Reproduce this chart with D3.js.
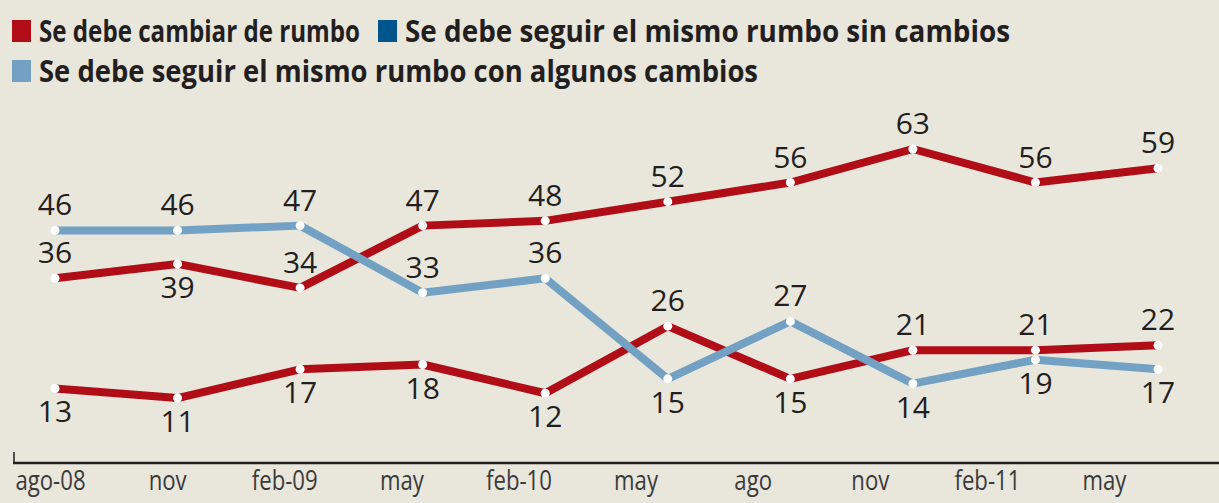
<!DOCTYPE html>
<html>
<head>
<meta charset="utf-8">
<script src="https://cdn.jsdelivr.net/npm/d3@7"></script>
<style>
  body { margin: 0; background: #e9e6dc; }
  svg { display: block; }
</style>
</head>
<body>
<svg></svg>
<script>
var width = 1219;
var height = 503;

var periods = ["ago-08", "nov", "feb-09", "may", "feb-10", "may", "ago", "nov", "feb-11", "may"];
var seriesNames = ["Se debe cambiar de rumbo", "Se debe seguir el mismo rumbo sin cambios", "Se debe seguir el mismo rumbo con algunos cambios"];
var cambiar = [36, 39, 34, 47, 48, 52, 56, 63, 56, 59];
var sinCambios = [13, 11, 17, 18, 12, 26, 15, 21, 21, 22];
var conCambios = [46, 46, 47, 33, 36, 15, 27, 14, 19, 17];
// which labels sit under their point
var cambiarBelow = [false, true, false, false, false, false, false, false, false, false];
var sinBelow = [true, true, true, true, true, false, true, false, false, false];
var conBelow = [false, false, false, false, false, true, false, true, true, true];

var legendColors = ["#b00d17", "#00558c", "#73a1c3"];
var red = "#b00d17", lightBlue = "#73a1c3";

var svg = d3.select("svg")
	.attr("width", width)
	.attr("height", height);

var Xscale = d3.scalePoint()
	.domain(d3.range(periods.length))
	.range([55, 1158]);

var Yscale = d3.scaleLinear()
	.domain([0, 63])
	.range([450.7, 149]);

// axis labels are not under the points in the original, they are spread on their own
var labelScale = d3.scalePoint()
	.domain(d3.range(periods.length))
	.range([50, 1104]);

// squeeze text a bit, the original uses a narrow face
function condense(sel, k) {
	sel.each(function () {
		var w = this.getComputedTextLength();
		d3.select(this)
			.attr("textLength", w * k)
			.attr("lengthAdjust", "spacingAndGlyphs");
	});
}

// legend
var legendItems = [
	{ name: seriesNames[0], color: legendColors[0], x: 12, y: 42, w: 321 },
	{ name: seriesNames[1], color: legendColors[1], x: 378, y: 42, w: 605 },
	{ name: seriesNames[2], color: legendColors[2], x: 12, y: 82, w: 719 }
];

var legend = svg.append("g").selectAll("g")
	.data(legendItems)
	.enter()
	.append("g")
		.attr("transform", d => "translate(" + d.x + "," + d.y + ")");

legend.append("rect")
	.attr("x", 0)
	.attr("y", -22)
	.attr("width", 19)
	.attr("height", 22)
	.attr("fill", d => d.color);

legend.append("text")
	.attr("x", 27)
	.attr("y", 0)
	.attr("font-family", "Open Sans")
	.attr("font-weight", "bold")
	.attr("font-size", 30)
	.attr("fill", "#231f20")
	.attr("textLength", d => d.w)
	.attr("lengthAdjust", "spacingAndGlyphs")
	.text(d => d.name);

// axis
var xAxis = d3.axisBottom(labelScale)
	.tickSize(0)
	.tickPadding(8)
	.tickFormat(i => periods[i]);

var axisG = svg.append("g")
	.attr("transform", "translate(0," + 463 + ")")
	.call(xAxis);

axisG.select(".domain").remove();
axisG.selectAll("text")
	.attr("font-family", "Open Sans")
	.attr("font-size", 27)
	.attr("fill", "#3a3a3a")
	.call(condense, 0.82);

svg.append("line")
	.attr("x1", 13).attr("x2", width)
	.attr("y1", 463).attr("y2", 463)
	.attr("stroke", "#231f20")
	.attr("stroke-width", 2.5);

svg.append("line")
	.attr("x1", 14).attr("x2", 14)
	.attr("y1", 452).attr("y2", 463)
	.attr("stroke", "#231f20")
	.attr("stroke-width", 1.5);

// lines
var line = d3.line()
	.x((d, i) => Xscale(i))
	.y(d => Yscale(d));

var series = [
	{ values: cambiar, below: cambiarBelow, color: red },
	{ values: sinCambios, below: sinBelow, color: red },
	{ values: conCambios, below: conBelow, color: lightBlue }
];

svg.append("g").selectAll("path")
	.data(series)
	.enter()
	.append("path")
		.attr("d", d => line(d.values))
		.attr("fill", "none")
		.attr("stroke", d => d.color)
		.attr("stroke-width", 8)
		.attr("stroke-linejoin", "round");

series.forEach(function (s) {
	svg.append("g").selectAll("circle")
		.data(s.values)
		.enter()
		.append("circle")
			.attr("cx", (d, i) => Xscale(i))
			.attr("cy", d => Yscale(d))
			.attr("r", 4.5)
			.attr("fill", "white");

	svg.append("g").selectAll("text")
		.data(s.values)
		.enter()
		.append("text")
			.attr("x", (d, i) => Xscale(i))
			.attr("y", (d, i) => Yscale(d) + (s.below[i] ? 34 : -15))
			.attr("text-anchor", "middle")
			.attr("font-family", "Open Sans")
			.attr("font-size", 30)
			.attr("fill", "#231f20")
			.text(d => d);
});
</script>
</body>
</html>
